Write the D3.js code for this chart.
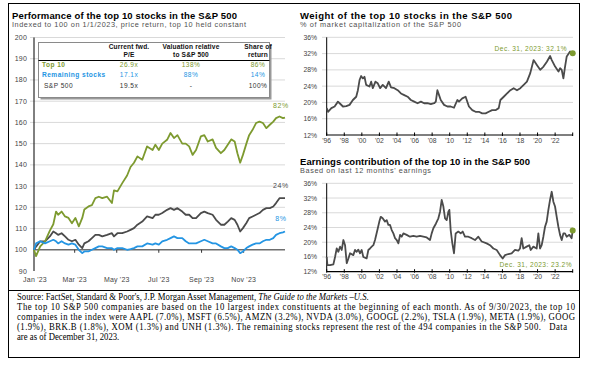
<!DOCTYPE html>
<html><head><meta charset="utf-8">
<script src="https://cdn.jsdelivr.net/npm/d3@7"></script>
<style>
body{margin:0;background:#fff}
svg{display:block}
text{font-family:"Liberation Sans",Arial,sans-serif}
.serif{font-family:"Liberation Serif","Times New Roman",serif}
</style>
</head><body>
<svg id="c" width="594" height="369"></svg>
<script>
// ---------------- DATA ----------------
// Left panel: days since 1/1/2023
const perfDays = [0,3,9,16,23,28,32,35,40,45,50,55,60,65,70,73,79,84,89,94,99,106,113,116,121,128,135,140,145,150,157,164,172,176,181,186,193,198,203,208,215,220,225,230,235,242,247,252,259,264,271,276,281,286,291,295,299,303,308,312,317,322,327,332,337,342,347,351,356,361,364];
const top10Perf = [100,97,101.6,104,109,112,118,116.5,118,115.7,115,112.5,115,111,115,119,120.4,121,124.3,125,124.3,125,122,128,127.5,131.4,135,139,141,144,142.4,148.7,147,149.5,147,150,151.8,155,152.6,154,150,150,148.7,144.7,147,153.4,154,151,152,148,145.5,147,149.5,152,151,145.5,141,144.7,150,154,156.5,159.7,160.4,159.7,157.3,158.9,160.4,162,162.8,162,162.3];
const sp500Perf = [100,101.5,104,104,106.3,108.6,107.8,107,107.8,106.3,104.7,104,104.7,102.4,100.8,103,104,105.5,107,107,106.3,107,107.8,106.3,107.8,107.8,108.6,109.4,110.2,111.8,113.3,115.7,114.9,116.5,116.5,117.3,118.8,119.6,118.8,119.6,118,116.5,116.5,114.9,114.9,117.3,118,117.3,116.5,114.1,111.8,111.8,113.3,114.9,114.1,111.8,108.6,110.2,112.6,114.9,115.7,116.5,117.3,118.8,119.6,119.6,120.4,122,124.3,124.3,124.3];
const restPerf = [100,103,104,103,104,104.7,104,103,104,103,102.4,103,102.4,100,98.4,99.2,99.2,100,100.8,101.6,101.6,100.8,100.8,100,100.8,100.8,100,100.3,100.8,101.6,101.6,103,102.4,103,102.4,104,104.7,105.5,106.3,105.5,105.5,104,103,103,103,104,104.7,104,103,103,101.6,100.8,100.8,101.6,100.8,100,98.4,99.2,100.8,101.6,102.4,103,103,104,104.7,104.7,105.5,107,107.8,108.2,108.6];
const perfTicks = [90,100,110,120,130,140,150,160,170,180,190,200];
const perfMonthLabels = ["Jan '23","Mar '23","May '23","Jul '23","Sep '23","Nov '23"];
const perfEndLabels = ["82%","24%","8%"];

// Table
const tableHeaders = [["Current fwd.","P/E"],["Valuation relative","to S&P 500"],["Share of","return"]];
const tableRows = ["Top 10","Remaining stocks","S&P 500"];
const tablePE = ["26.9x","17.1x","19.5x"];
const tableRel = ["138%","88%","-"];
const tableShare = ["86%","14%","100%"];

// Top-right: weight of top 10 (% of market cap)
const weightYears = [1996.0,1996.15,1996.53,1996.9,1997.28,1997.47,1997.85,1998.23,1998.6,1998.98,1999.36,1999.55,1999.74,1999.92,2000.11,2000.3,2000.49,2000.87,2001.06,2001.25,2001.55,2001.81,2002.08,2002.38,2002.75,2003.06,2003.32,2003.7,2004.08,2004.45,2004.83,2005.21,2005.58,2005.96,2006.34,2006.72,2007.09,2007.47,2007.85,2008.23,2008.42,2008.6,2008.79,2008.98,2009.36,2009.74,2010.11,2010.49,2010.87,2011.06,2011.43,2011.81,2012.19,2012.57,2012.94,2013.32,2013.7,2014.08,2014.45,2014.83,2015.21,2015.58,2015.77,2016.15,2016.53,2016.91,2017.28,2017.66,2018.04,2018.42,2018.79,2019.17,2019.55,2019.92,2020.3,2020.68,2021.06,2021.43,2021.62,2022.0,2022.38,2022.57,2022.75,2022.94,2023.13,2023.32,2023.7,2024.0];
const weightValues = [18.6,17.7,18.6,19,20.2,19.8,19,19.1,19.4,20.6,21.4,23,25.5,26.5,25.9,26.3,24.3,23.9,25.1,23.5,25.1,24.7,23.5,24.3,23.5,25.1,23.7,23.5,23,22.2,21.8,21.4,20.6,20.2,19.8,20.2,19.8,19.8,19.6,19.8,20.2,23,21.8,20.6,19.4,19,19,18.7,20.6,20.2,21,21.4,19,18.1,17.7,17.7,17.3,17.3,17.7,18.1,18.1,18.6,20.6,21.4,22.2,23,23.5,23,23.5,24.3,25.1,27.2,30.4,29.2,28,28.8,30,31.4,30.4,28.8,27.6,28.4,28,25.9,28.8,31.3,32.5,32.1];

// Bottom-right: earnings contribution of top 10
const earnYears = [1996.0,1996.08,1996.38,1996.76,1996.95,1997.14,1997.33,1997.52,1997.71,1997.9,1998.09,1998.28,1998.47,1998.66,1999.03,1999.22,1999.41,1999.6,1999.79,1999.98,2000.17,2000.55,2000.74,2000.93,2001.12,2001.31,2001.5,2001.77,2001.99,2002.15,2002.37,2002.64,2002.83,2003.02,2003.21,2003.4,2003.59,2003.78,2003.97,2004.16,2004.35,2004.54,2004.73,2005.1,2005.48,2005.86,2006.24,2006.62,2007.0,2007.38,2007.76,2007.95,2008.14,2008.44,2008.71,2008.9,2009.09,2009.28,2009.47,2009.66,2009.85,2009.96,2010.11,2010.3,2010.49,2010.68,2010.98,2011.25,2011.48,2011.74,2012.12,2012.5,2012.88,2013.26,2013.64,2014.21,2014.59,2014.97,2015.35,2015.73,2016.03,2016.3,2016.68,2017.05,2017.43,2017.81,2018.0,2018.19,2018.38,2018.76,2019.06,2019.22,2019.52,2019.9,2020.09,2020.28,2020.47,2020.66,2020.85,2021.04,2021.23,2021.42,2021.61,2021.8,2021.99,2022.18,2022.37,2022.56,2022.75,2022.94,2023.12,2023.31,2023.62,2023.88,2024.0];
const earnValues = [16,13.8,13.8,14,16,18.3,17.4,18.8,17.9,20.6,19.2,14.3,15.6,17,16.5,17.9,17.4,18,17,17.9,16,15.6,17.9,18.3,18.8,19.2,20.6,23.3,25.6,26.9,26.5,25.6,26,24.7,24.7,23.3,22.4,21.1,20.6,19.7,22,21.5,22.4,22,21.5,21.7,21.5,21.7,21.5,21.3,20.6,22.4,23.8,25.1,26.5,28.3,31.5,29.7,26.5,26,28.3,28.8,23.3,19.7,17,22.4,22.9,22.4,22.9,21.5,21.5,21.1,20.6,21.5,20.2,19.7,19.2,18.3,17.9,16.5,15.6,16.5,16.8,17,17.9,17.7,18.3,21.1,18.3,18.8,19.2,17.9,18.8,18.3,22.4,18.3,19.2,21.5,24.2,25.6,28.8,31.5,33.7,31,29.7,26.9,24.2,22,20.6,22.4,22.4,21.5,22,21.1,23.2];

const pctTicks = [12,16,20,24,28,32,36];
const yearTicks = [1996,1998,2000,2002,2004,2006,2008,2010,2012,2014,2016,2018,2020,2022];
const weightLabel = "Dec. 31, 2023: 32.1%";
const earnLabel = "Dec. 31, 2023: 23.2%";

const footLines = [
  ["Source: FactSet, Standard & Poor's, J.P. Morgan Asset Management, ", "The Guide to the Markets \u2013U.S."],
  ["The top 10 S&P 500 companies are based on the 10 largest index constituents at the beginning of each month. As of 9/30/2023, the top 10", ""],
  ["companies in the index were AAPL (7.0%), MSFT (6.5%), AMZN (3.2%), NVDA (3.0%), GOOGL (2.2%), TSLA (1.9%), META (1.9%), GOOG", ""],
  ["(1.9%), BRK.B (1.8%), XOM (1.3%) and UNH (1.3%). The remaining stocks represent the rest of the 494 companies in the S&P 500.   Data", ""],
  ["are as of December 31, 2023.", ""]
];

// ---------------- STYLE ----------------
const GREEN = "#7d9a2f", BLUE = "#2495e3", DARK = "#4b4b4b", GRID = "#d9d9d9", TICKC = "#444";

const svg = d3.select("#c");
svg.append("rect").attr("width",594).attr("height",369).attr("fill","#fff");

// frames
svg.append("rect").attr("x",8.5).attr("y",3.5).attr("width",571).attr("height",287)
  .attr("fill","none").attr("stroke","#000").attr("stroke-width",1);
svg.append("rect").attr("x",8.5).attr("y",290.5).attr("width",571).attr("height",67)
  .attr("fill","none").attr("stroke","#000").attr("stroke-width",1);

function fitText(sel, w){ sel.attr("textLength", w).attr("lengthAdjust","spacing"); return sel; }

function title(x, y, t, w){
  fitText(svg.append("text").attr("x",x).attr("y",y).attr("font-size",9.5).attr("font-weight","bold").attr("fill","#000").text(t), w);
}
function subtitle(x, y, t, w){
  fitText(svg.append("text").attr("x",x).attr("y",y).attr("font-size",7.3).attr("fill","#505050").text(t), w);
}

// ---------------- LEFT PANEL ----------------
title(12, 18.5, "Performance of the top 10 stocks in the S&P 500", 225);
subtitle(12, 27, "Indexed to 100 on 1/1/2023, price return, top 10 held constant", 234);

const t0 = new Date(2023,0,1);
const dayDate = d => d3.timeDay.offset(t0, d);
const xL = d3.scaleTime().domain([t0, new Date(2023,11,31)]).range([34,285]);
const yL = d3.scaleLinear().domain([90,200]).range([271,37.5]);

const gL = svg.append("g");
gL.selectAll("line.grid").data(perfTicks.filter(v=>v>100)).join("line")
  .attr("x1",30).attr("x2",285).attr("y1",d=>yL(d)).attr("y2",d=>yL(d))
  .attr("stroke",GRID).attr("stroke-width",1);
gL.selectAll("text.yl").data(perfTicks).join("text")
  .attr("x",27).attr("y",d=>yL(d)+2.5).attr("text-anchor","end")
  .attr("font-size",7).attr("fill",TICKC).attr("letter-spacing",0.2).text(d=>d);
gL.append("line").attr("x1",34).attr("x2",34).attr("y1",yL(200)).attr("y2",yL(90)).attr("stroke","#000").attr("stroke-width",1);
const monthDates = perfMonthLabels.map((_,i)=>new Date(2023,i*2,1));
gL.selectAll("text.xl").data(perfMonthLabels).join("text")
  .attr("x",(d,i)=>xL(monthDates[i])+ (i===0?1:0)).attr("y",282).attr("text-anchor","middle")
  .attr("font-size",7).attr("fill",TICKC).attr("letter-spacing",0.2).text(d=>d);

// table
const tb = {x:38.5, y:42.5, w:231, h:55};
svg.append("rect").attr("x",tb.x+2).attr("y",tb.y+2).attr("width",tb.w).attr("height",tb.h).attr("fill","#9a9a9a");
svg.append("rect").attr("x",tb.x).attr("y",tb.y).attr("width",tb.w).attr("height",tb.h).attr("fill","#fff").attr("stroke","#8a8a8a").attr("stroke-width",1);
svg.append("line").attr("x1",tb.x).attr("x2",tb.x+tb.w).attr("y1",60.5).attr("y2",60.5).attr("stroke","#000").attr("stroke-width",1);
const colX = [129, 191, 258];
tableHeaders.forEach((h,i)=>{
  h.forEach((s,j)=>{
    svg.append("text").attr("x",colX[i]).attr("y",48.5+j*8.3).attr("text-anchor","middle")
      .attr("font-size",6.6).attr("font-weight","bold").attr("fill","#111").attr("letter-spacing",0.15).text(s);
  });
});
const rowColors = [GREEN, BLUE, "#333"];
const rowY = [67, 77, 87.5];
tableRows.forEach((r,i)=>{
  svg.append("text").attr("x", i===2?44:42).attr("y",rowY[i]).attr("font-size",6.6)
    .attr("font-weight", i===2?"normal":"bold").attr("fill",rowColors[i]).attr("letter-spacing",0.45).text(r);
  [tablePE[i], tableRel[i], tableShare[i]].forEach((v,k)=>{
    svg.append("text").attr("x",colX[k]).attr("y",rowY[i]).attr("text-anchor","middle")
      .attr("font-size",6.6).attr("fill",rowColors[i]).attr("letter-spacing",0.45).text(v);
  });
});

// 100 baseline + ticks
gL.append("line").attr("x1",34).attr("x2",285).attr("y1",yL(100)).attr("y2",yL(100)).attr("stroke","#6e6e6e").attr("stroke-width",1.6);
gL.selectAll("line.mt").data(monthDates.slice(1)).join("line")
  .attr("x1",d=>xL(d)).attr("x2",d=>xL(d)).attr("y1",yL(100)).attr("y2",yL(100)+3)
  .attr("stroke","#333").attr("stroke-width",1);

const lineL = d3.line().x((d,i)=>xL(dayDate(perfDays[i]))).y(d=>yL(d));
[[sp500Perf,DARK],[top10Perf,GREEN],[restPerf,BLUE]].forEach(([s,c])=>{
  svg.append("path").attr("d",lineL(s)).attr("fill","none").attr("stroke",c)
    .attr("stroke-width",1.8).attr("stroke-linejoin","round");
});
const endSeries = [top10Perf, sp500Perf, restPerf];
const endColors = [GREEN, DARK, BLUE];
const endDy = [-10, -10, -11];
perfEndLabels.forEach((t,i)=>{
  const s = endSeries[i];
  svg.append("text").attr("x",xL(dayDate(perfDays[perfDays.length-1]))-4).attr("y",yL(s[s.length-1])+endDy[i])
    .attr("text-anchor","middle").attr("font-size",7).attr("letter-spacing",0.6).attr("fill",endColors[i]).text(t);
});

// ---------------- RIGHT PANELS ----------------
function rightPanel(o){
  title(300, o.titleY, o.title, o.titleW);
  subtitle(300, o.titleY+8.5, o.sub, o.subW);
  const x = d3.scaleLinear().domain([1996,2024]).range([326.7,572.7]);
  const y = d3.scaleLinear().domain([12,36]).range([o.y0,o.y1]);
  const g = svg.append("g");
  g.selectAll("line.grid").data(pctTicks.filter(v=>v>12)).join("line")
    .attr("x1",322).attr("x2",573).attr("y1",d=>y(d)).attr("y2",d=>y(d))
    .attr("stroke",GRID).attr("stroke-width",1);
  g.selectAll("text.yl").data(pctTicks).join("text")
    .attr("x",317).attr("y",d=>y(d)+2.5).attr("text-anchor","end")
    .attr("font-size",6.8).attr("fill",TICKC).text(d=>d+"%");
  g.append("line").attr("x1",x(1996)).attr("x2",x(1996)).attr("y1",y(36)).attr("y2",y(12)).attr("stroke","#000");
  g.append("line").attr("x1",x(1996)).attr("x2",573).attr("y1",y(12)).attr("y2",y(12)).attr("stroke","#000").attr("stroke-width",1.2);
  g.selectAll("line.tk").data(yearTicks.concat([2024])).join("line")
    .attr("x1",d=>x(d)).attr("x2",d=>x(d)).attr("y1",y(12)-2.5).attr("y2",y(12)+1)
    .attr("stroke","#000");
  g.selectAll("text.xl").data(yearTicks).join("text")
    .attr("x",d=>x(d)).attr("y",y(12)+7.5).attr("text-anchor","middle")
    .attr("font-size",6.8).attr("fill",TICKC).text(d=>"'"+String(d).slice(2));
  const ln = d3.line().x((d,i)=>x(o.years[i])).y(d=>y(d));
  g.append("path").attr("d",ln(o.values)).attr("fill","none").attr("stroke",DARK)
    .attr("stroke-width",1.8).attr("stroke-linejoin","round");
  const lastV = o.values[o.values.length-1], lastX = x(o.years[o.years.length-1]);
  g.append("circle").attr("cx",lastX).attr("cy",y(lastV)).attr("r",3).attr("fill",GREEN);
  g.append("text").attr("x",o.labX).attr("y",o.labY).attr("text-anchor","end")
    .attr("font-size",6.6).attr("letter-spacing",0.45).attr("fill",GREEN).text(o.label);
}
rightPanel({title:"Weight of the top 10 stocks in the S&P 500", titleY:18.5, titleW:212,
  sub:"% of market capitalization of the S&P 500", subW:161,
  y0:135, y1:37.3, years:weightYears, values:weightValues, label:weightLabel, labX:567, labY:51});
rightPanel({title:"Earnings contribution of the top 10 in the S&P 500", titleY:164.5, titleW:230,
  sub:"Based on last 12 months' earnings", subW:131,
  y0:271.7, y1:183.3, years:earnYears, values:earnValues, label:earnLabel, labX:572, labY:267});

// ---------------- FOOTNOTE ----------------
// Rendered at 9.5px and compressed horizontally to the reference's narrow setting
const fnSize = 9.5;
const fg = svg.append("g");
const probe = fg.append("text").attr("class","serif").attr("font-size",fnSize).attr("xml:space","preserve");
probe.append("tspan").text(footLines[0][0]);
probe.append("tspan").attr("font-style","italic").text(footLines[0][1]);
const w1 = probe.node().getComputedTextLength();
probe.remove();
const sx = 352 / w1;
fg.attr("transform", `translate(17,0) scale(${sx},1)`);
const justifyW = [null, 558, 558, 550, null];
footLines.forEach((l,i)=>{
  const t = fg.append("text").attr("class","serif").attr("x",0).attr("y",300.5+i*10)
    .attr("font-size",fnSize).attr("fill","#000").attr("xml:space","preserve");
  t.append("tspan").text(l[0]);
  if(l[1]) t.append("tspan").attr("font-style","italic").text(l[1]);
  if(justifyW[i]) t.attr("textLength", justifyW[i]/sx).attr("lengthAdjust","spacing");
});
</script>
</body></html>
